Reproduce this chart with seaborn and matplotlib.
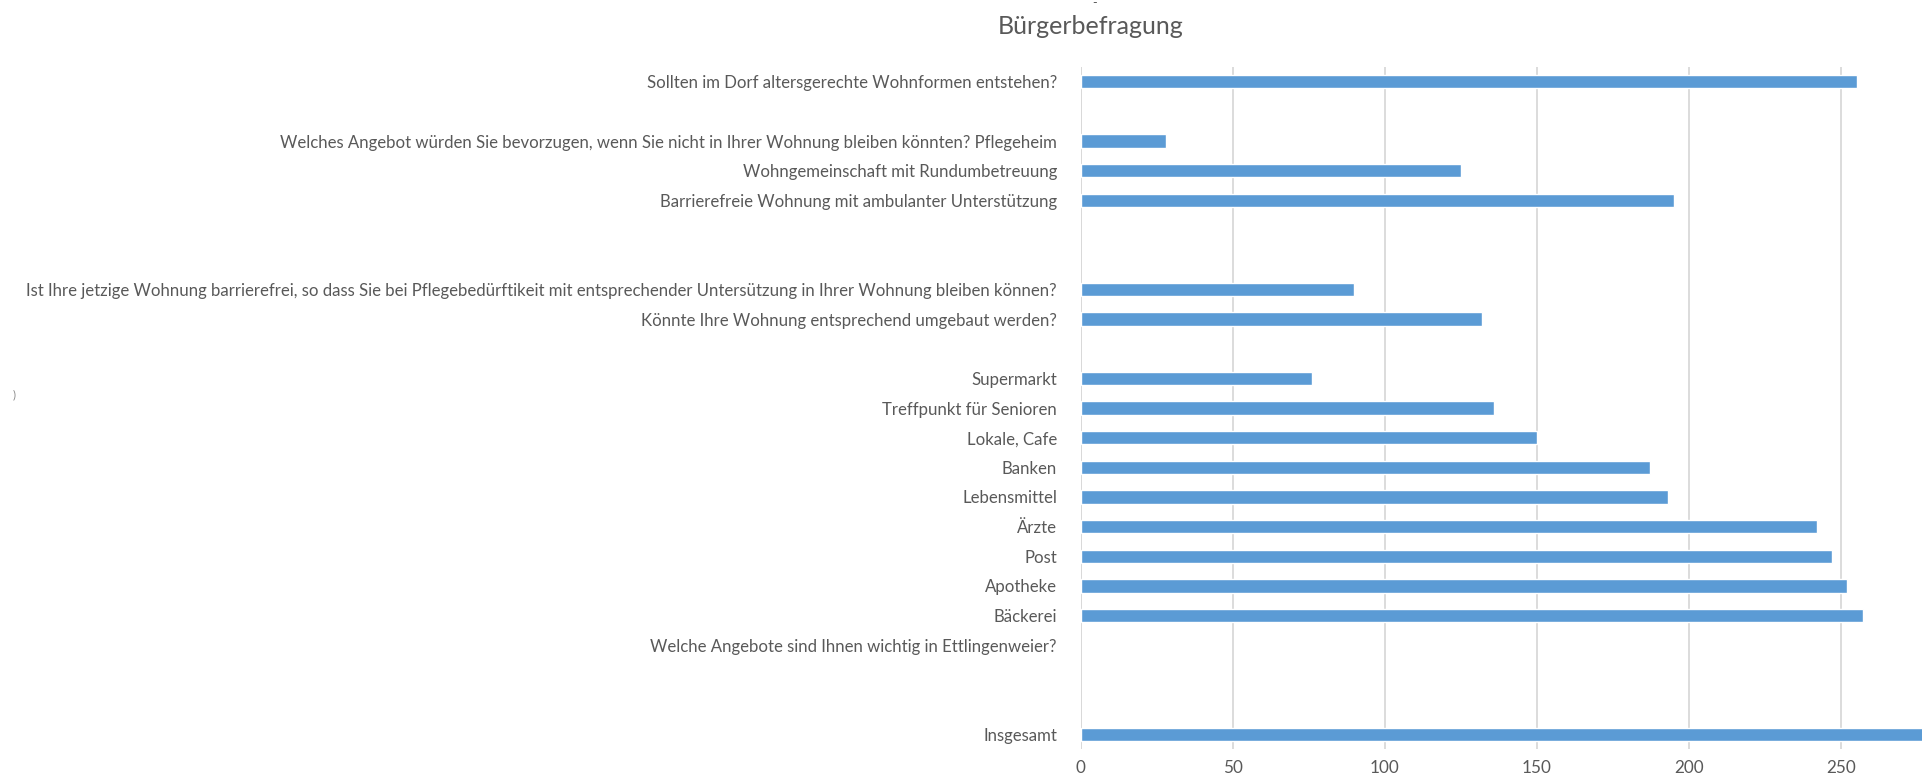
import matplotlib
matplotlib.use("Agg")
import matplotlib.pyplot as plt
import seaborn as sns
import pandas as pd

# rows from top to bottom, "" = empty slot in the original chart
labels = [
    "Sollten im Dorf altersgerechte Wohnformen entstehen?",
    "",
    "Welches Angebot würden Sie bevorzugen, wenn Sie nicht in Ihrer Wohnung bleiben könnten? Pflegeheim",
    "Wohngemeinschaft mit Rundumbetreuung",
    "Barrierefreie Wohnung mit ambulanter Unterstützung",
    "",
    "",
    "Ist Ihre jetzige Wohnung barrierefrei, so dass Sie bei Pflegebedürftikeit mit entsprechender Untersützung in Ihrer Wohnung bleiben können?",
    "Könnte Ihre Wohnung entsprechend umgebaut werden?",
    "",
    "Supermarkt",
    "Treffpunkt für Senioren",
    "Lokale, Cafe",
    "Banken",
    "Lebensmittel",
    "Ärzte",
    "Post",
    "Apotheke",
    "Bäckerei",
    "Welche Angebote sind Ihnen wichtig in Ettlingenweier?",
    "",
    "",
    "Insgesamt",
]
values = [255, None, 28, 125, 195, None, None, 90, 132, None,
          76, 136, 150, 187, 193, 242, 247, 252, 257, None, None, None, 280]
xticks = [0, 50, 100, 150, 200, 250]

text_col = "#595959"
bar_col = "#5b9bd5"
grid_col = "#d9d9d9"

sns.set_theme(style="white")
plt.rcParams["font.family"] = ["Lato", "DejaVu Sans"]

# unique keys so empty slots stay separate categories
keys = [lab if lab else f"_blank{i}" for i, lab in enumerate(labels)]
df = pd.DataFrame({"key": keys, "value": values}).dropna()

fig = plt.figure(figsize=(19.22, 7.79), dpi=100)
ax = fig.add_axes([1080.5 / 1922, 1 - 749 / 779, (1922 - 1080.5) / 1922, (749 - 67) / 779])

sns.barplot(data=df, x="value", y="key", order=keys, orient="h",
            color=bar_col, width=0.45, saturation=1, ax=ax, zorder=3)

ax.set_xlim(0, 276.5)
ax.set_xticks(xticks)
ax.set_yticks(range(len(labels)))
ax.set_yticklabels(labels)
ax.set_xlabel("")
ax.set_ylabel("")
ax.tick_params(axis="y", length=0, pad=17, labelsize=12.1, labelcolor=text_col)
ax.tick_params(axis="x", length=0, pad=8, labelsize=12.3, labelcolor=text_col)
ax.grid(axis="x", color=grid_col, linewidth=1.3, zorder=0)
for s in ax.spines.values():
    s.set_visible(False)
ax.axvline(0, color=grid_col, linewidth=1.3, zorder=1)

fig.text(1091 / 1922, 1 - 27 / 779, "Bürgerbefragung", ha="center", va="center",
         fontsize=18, color=text_col)
# cut-off remnants visible in the source image
fig.text(1095 / 1922, 1 - 3 / 779, "-", ha="center", va="center", fontsize=9, color=text_col)
fig.text(14 / 1922, 1 - 395 / 779, ")", ha="center", va="center", fontsize=8, color="#888888")

fig.savefig("out.png", dpi=100)
